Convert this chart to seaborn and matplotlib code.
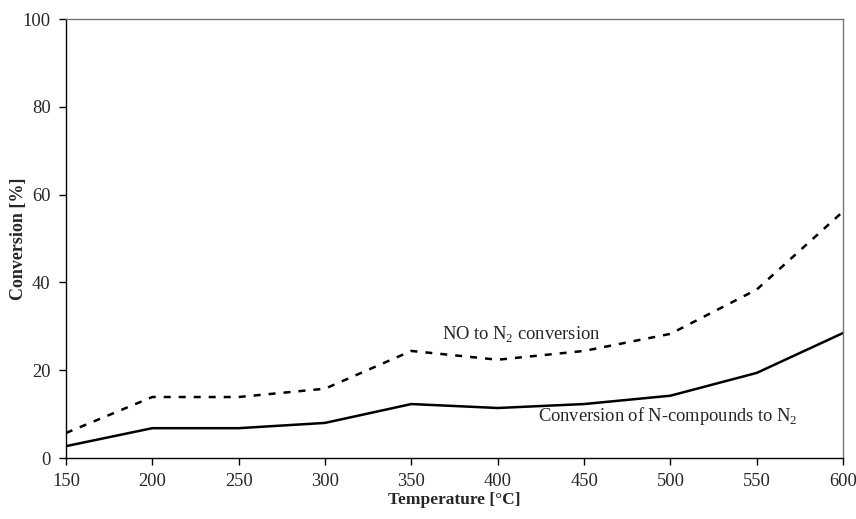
import matplotlib
matplotlib.use("Agg")
import matplotlib.pyplot as plt
import seaborn as sns
import pandas as pd

# data
temperature = [150, 200, 250, 300, 350, 400, 450, 500, 550, 600]
no_to_n2 = [5.7, 13.9, 13.9, 15.8, 24.4, 22.4, 24.4, 28.3, 38.4, 56.2]
n_compounds_to_n2 = [2.7, 6.8, 6.8, 8.0, 12.3, 11.4, 12.3, 14.2, 19.4, 28.5]
x_ticks = [150, 200, 250, 300, 350, 400, 450, 500, 550, 600]
y_ticks = [0, 20, 40, 60, 80, 100]

df = pd.DataFrame({
    "Temperature": temperature * 2,
    "Conversion": no_to_n2 + n_compounds_to_n2,
    "series": ["NO"] * len(temperature) + ["N"] * len(temperature),
})

sns.set_style("white")
plt.rcParams["font.family"] = ["Liberation Serif", "DejaVu Serif"]
plt.rcParams["mathtext.fontset"] = "custom"
plt.rcParams["mathtext.rm"] = "Liberation Serif"

fig = plt.figure(figsize=(8.56, 5.19), dpi=100)
ax = fig.add_axes([0.077, 0.1175, 0.908, 0.8455])

sns.lineplot(data=df, x="Temperature", y="Conversion", style="series",
             dashes={"NO": (2.8, 3.2), "N": ""}, color="black", linewidth=1.8,
             legend=False, ax=ax)

ax.set_xlim(150, 600)
ax.set_ylim(0, 100)
ax.set_xticks(x_ticks)
ax.set_yticks(y_ticks)
ax.tick_params(axis="both", direction="out", length=5, width=1, color="black",
               labelsize=13.3, pad=6, bottom=True, left=True)
for sp in ax.spines.values():
    sp.set_color("black")
    sp.set_linewidth(1)
ax.spines["top"].set_color("#777777")
ax.spines["right"].set_color("#777777")

ax.set_xlabel("Temperature [°C]", fontsize=12.5, fontweight="bold")
ax.set_ylabel("Conversion [%]", fontsize=13, fontweight="bold")
ax.xaxis.set_label_coords(0.5, -0.078)
ax.yaxis.set_label_coords(-0.050, 0.5)

# line labels
ax.text(413.8, 28.2, r"NO to N$_{\mathrm{2}}$ conversion", fontsize=13.3,
        ha="center", va="center")
ax.text(498.3, 9.6, r"Conversion of N-compounds to N$_{\mathrm{2}}$", fontsize=13.3,
        ha="center", va="center")

fig.savefig("out.png", dpi=100)
